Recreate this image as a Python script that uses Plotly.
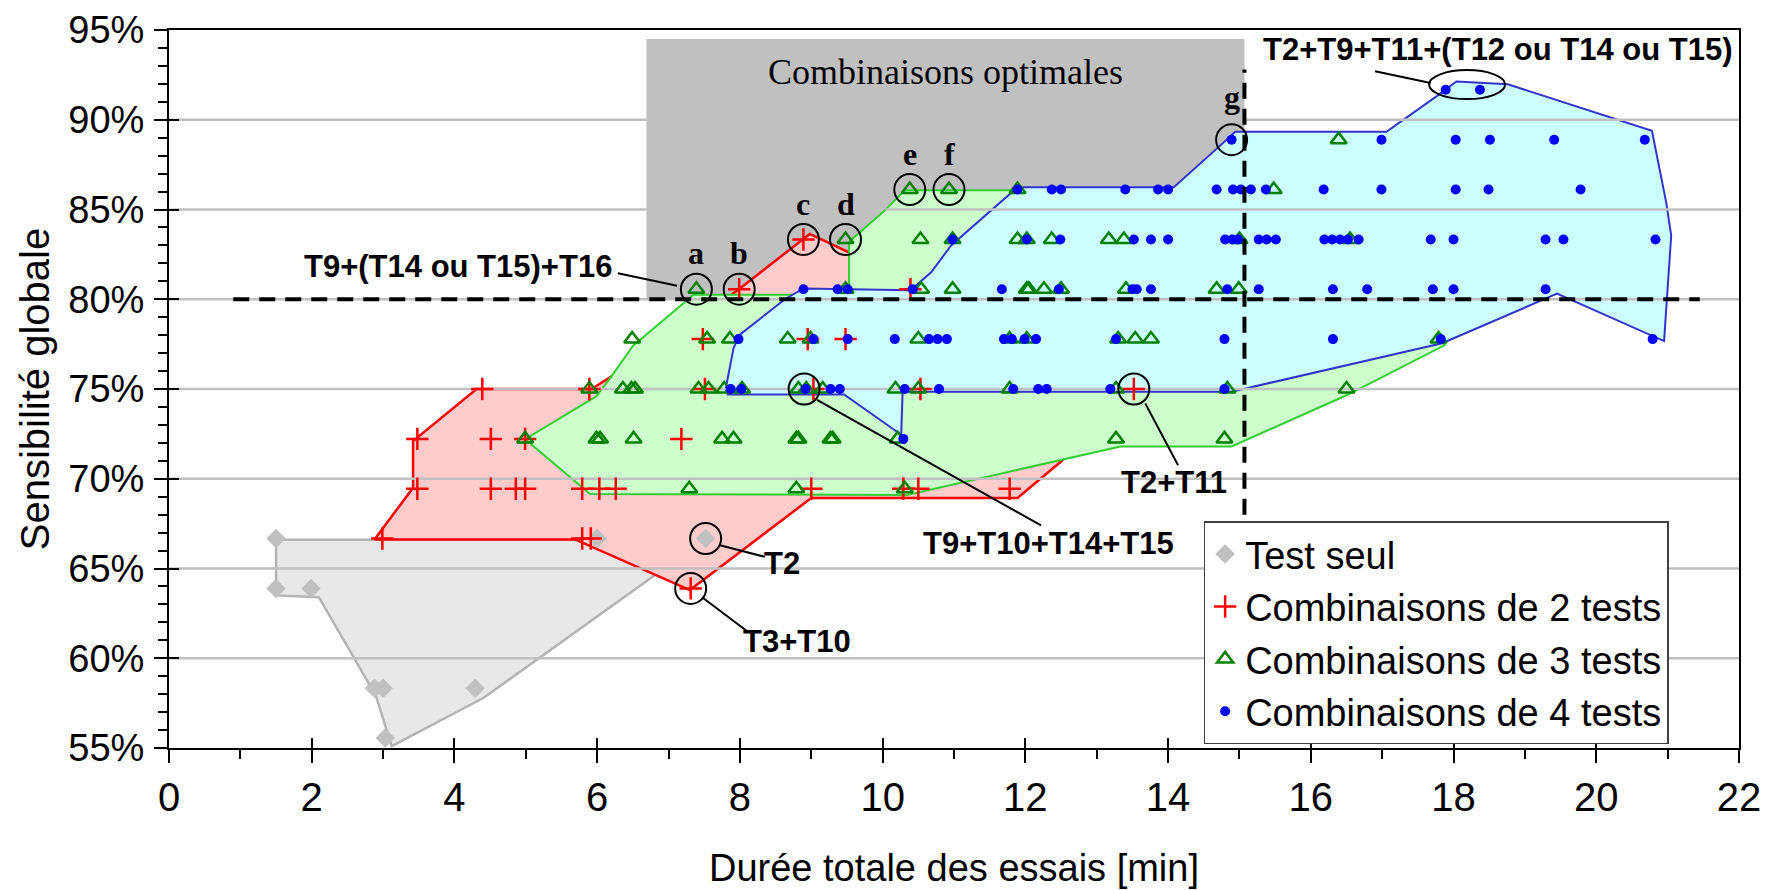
import plotly.graph_objects as go

# ---------------- axes ----------------
X_RANGE = [0, 22]
Y_RANGE = [55, 95]
X_TICKS = list(range(0, 23, 2))
Y_TICKS = list(range(55, 96, 5))
Y_TICK_LABELS = [f"{v}%" for v in Y_TICKS]
X_TITLE = "Durée totale des essais [min]"
Y_TITLE = "Sensibilité globale"

# ---------------- data (duration [min], sensitivity [%]) ----------------
TEST_SEUL_X = [1.50, 1.50, 1.99, 2.88, 3.00, 4.29, 3.03, 6.00, 7.52]
TEST_SEUL_Y = [66.67, 63.89, 63.89, 58.33, 58.33, 58.33, 55.56, 66.67, 66.67]

COMB2_ROWS = {
    63.89: [7.31],
    66.67: [2.99, 5.79, 5.91],
    69.44: [3.48, 4.51, 4.86, 4.99, 5.79, 6.03, 6.26, 9.00, 10.29, 10.50, 11.78],
    72.22: [3.48, 4.51, 4.99, 7.18],
    75.00: [4.39, 5.89, 7.51, 9.03, 10.53, 13.52],
    77.78: [7.48, 8.95, 9.48],
    80.56: [7.99, 10.39],
    83.33: [8.89],
}
COMB3_ROWS = {
    69.44: [7.29, 8.79, 10.31],
    72.22: [4.99, 5.99, 6.04, 6.51, 7.75, 7.91, 8.79, 8.82, 9.27, 9.30, 10.21, 13.27, 14.79],
    75.00: [5.89, 6.36, 6.48, 6.53, 7.42, 7.56, 7.78, 8.03, 8.82, 8.93, 9.16, 10.18, 10.50,
            11.78, 13.27, 14.83, 16.50],
    77.78: [6.49, 7.54, 7.86, 8.67, 8.99, 10.50, 11.78, 12.02, 13.30, 13.54, 13.76, 17.79],
    80.56: [7.39, 9.48, 10.54, 10.98, 12.02, 12.05, 12.26, 12.50, 13.41, 14.68, 14.99],
    83.33: [9.48, 10.53, 10.98, 11.89, 12.02, 12.37, 13.17, 13.38, 15.00, 16.55],
    86.11: [10.38, 10.93, 11.89, 15.48],
    88.89: [16.39],
}
COMB4_ROWS = {
    72.22: [10.29],
    75.00: [7.87, 8.02, 8.92, 9.27, 9.40, 10.31, 10.79, 11.83, 12.18, 12.30, 13.19, 14.79],
    77.78: [7.98, 9.03, 9.51, 10.17, 10.65, 10.77, 10.90, 11.70, 11.81, 11.99, 12.15, 13.27,
            14.79, 16.31, 17.82, 20.79],
    80.56: [8.89, 9.37, 9.51, 10.42, 11.67, 12.47, 13.50, 13.56, 13.76, 14.83, 15.27, 16.31,
            16.79, 17.71, 18.00, 19.29],
    83.33: [10.98, 12.02, 12.49, 13.52, 13.76, 14.00, 14.80, 14.90, 14.98, 15.27, 15.38, 15.51,
            16.19, 16.30, 16.41, 16.52, 16.67, 17.68, 18.00, 19.29, 19.54, 20.83],
    86.11: [11.89, 12.37, 12.50, 13.40, 13.86, 14.00, 14.68, 14.91, 15.02, 15.16, 15.37, 16.18,
            16.99, 18.03, 18.49, 19.78],
    88.89: [14.89, 16.99, 18.03, 18.51, 19.41, 20.68],
    91.67: [17.89, 18.37],
}

# envelopes drawn around each family
GRAY_HULL_X = [1.50, 1.50, 2.10, 2.90, 3.12, 4.41, 7.50, 1.50]
GRAY_HULL_Y = [66.60, 63.50, 63.40, 57.90, 55.10, 57.80, 66.60, 66.60]
RED_HULL_X = [2.88, 3.42, 3.42, 4.31, 5.92, 6.16, 7.95, 8.98, 9.52, 10.40, 13.55, 12.50, 11.89,
              9.00, 7.30, 5.69, 2.88]
RED_HULL_Y = [66.62, 69.50, 72.10, 75.00, 75.00, 75.60, 80.45, 83.64, 82.63, 80.60, 75.00, 70.96,
              68.93, 68.93, 63.80, 66.62, 66.62]
GREEN_HULL_X = [4.99, 5.99, 6.20, 6.50, 7.35, 9.53, 9.53, 10.03, 10.31, 11.90, 15.50, 16.40,
                16.60, 17.88, 16.50, 14.89, 13.33, 10.34, 5.90, 4.99]
GREEN_HULL_Y = [72.20, 74.60, 75.70, 77.40, 80.25, 80.25, 83.20, 84.94, 86.07, 86.07, 86.30,
                89.10, 83.40, 77.45, 74.65, 71.80, 71.80, 69.10, 69.15, 72.20]
BLUE_HULL_X = [14.89, 17.84, 19.45, 20.95, 21.05, 20.98, 20.78, 18.76, 18.04, 17.77, 17.06,
               14.94, 14.78, 14.08, 11.89, 10.96, 10.68, 10.39, 8.89, 8.63, 7.99, 7.91, 7.80,
               7.83, 9.46, 10.26, 10.28, 14.89]
BLUE_HULL_Y = [74.85, 77.55, 80.31, 77.67, 83.55, 85.40, 89.39, 91.98, 92.13, 91.33, 89.33,
               89.33, 88.74, 86.24, 86.24, 83.00, 81.50, 80.50, 80.60, 80.00, 78.00, 77.26,
               75.00, 74.70, 74.70, 72.45, 74.85, 74.85]

# "optimal" zone and thresholds
OPT_X = [6.69, 15.07]
OPT_Y = [80.0, 94.5]
OPT_LABEL = "Combinaisons optimales"
SENS_THRESHOLD = 80.0
SENS_LINE_X = [0.9, 21.45]
DUR_THRESHOLD = 15.07
DUR_LINE_Y = [68.0, 92.8]

GRID_Y = [60, 65, 70, 75, 80, 85, 90]
GRID_HIDDEN = {85: (6.69, 10.04), 90: (6.69, 15.07)}   # parts covered by the grey zone

# circled combinations with letters
LETTERS = ["a", "b", "c", "d", "e", "f", "g"]
LETTER_X = [7.39, 7.99, 8.89, 9.48, 10.38, 10.93, 14.89]
LETTER_Y = [80.56, 80.56, 83.33, 83.33, 86.11, 86.11, 88.89]

# callouts: text, text anchor point, leader line (start -> end), circled point
CALLOUTS = [
    dict(text="T9+(T14 ou T15)+T16", tx=6.24, ty=81.85, xa="right",
         line=(6.29, 81.45, 7.12, 80.75), cx=7.39, cy=80.56, circle=False),
    dict(text="T2+T9+T11+(T12 ou T14 ou T15)", tx=21.93, ty=93.9, xa="right",
         line=(16.9, 92.7, 17.68, 92.05), cx=None, cy=None, circle=False),
    dict(text="T2+T11", tx=14.08, ty=69.8, xa="center",
         line=(14.14, 70.75, 13.68, 74.2), cx=13.52, cy=75.0, circle=True),
    dict(text="T9+T10+T14+T15", tx=12.32, ty=66.4, xa="center",
         line=(12.22, 67.4, 9.08, 74.4), cx=8.90, cy=75.0, circle=True),
    dict(text="T2", tx=8.59, ty=65.3, xa="center",
         line=(8.35, 65.65, 7.72, 66.3), cx=7.52, cy=66.67, circle=True),
    dict(text="T3+T10", tx=8.80, ty=60.95, xa="center",
         line=(8.12, 61.45, 7.47, 63.4), cx=7.31, cy=63.89, circle=True),
]
ELLIPSE_CENTER = (18.19, 91.96)


def flatten(rows):
    xs, ys = [], []
    for yv, xl in rows.items():
        xs += xl
        ys += [yv] * len(xl)
    return xs, ys


COMB2_X, COMB2_Y = flatten(COMB2_ROWS)
COMB3_X, COMB3_Y = flatten(COMB3_ROWS)
COMB4_X, COMB4_Y = flatten(COMB4_ROWS)

SANS = "Liberation Sans, Arial, sans-serif"
SERIF = "Liberation Serif, Times New Roman, serif"

fig = go.Figure()

# envelopes
for hx, hy, fc, lc, lw in [
    (GRAY_HULL_X, GRAY_HULL_Y, "#E8E8E8", "#B4B4B4", 2.5),
    (RED_HULL_X, RED_HULL_Y, "#FFCCCC", "#FF0000", 2.5),
    (GREEN_HULL_X, GREEN_HULL_Y, "#CCFFCC", "#33CC33", 2),
    (BLUE_HULL_X, BLUE_HULL_Y, "#CCFFFF", "#3333CC", 2),
]:
    fig.add_trace(go.Scatter(x=hx, y=hy, mode="lines", fill="toself", fillcolor=fc,
                             line=dict(color=lc, width=lw), showlegend=False, hoverinfo="skip"))

# gridlines (drawn above envelopes, hidden by the grey zone)
gx, gy = [], []
for g in GRID_Y:
    if g in GRID_HIDDEN:
        a, b = GRID_HIDDEN[g]
        gx += [X_RANGE[0], a, None, b, X_RANGE[1], None]
        gy += [g, g, None, g, g, None]
    else:
        gx += [X_RANGE[0], X_RANGE[1], None]
        gy += [g, g, None]
fig.add_trace(go.Scatter(x=gx, y=gy, mode="lines", line=dict(color="#C0C0C0", width=2.5),
                         showlegend=False, hoverinfo="skip"))

# points
fig.add_trace(go.Scatter(x=TEST_SEUL_X, y=TEST_SEUL_Y, mode="markers", name="Test seul",
                         marker=dict(symbol="diamond", size=15, color="#C0C0C0")))
fig.add_trace(go.Scatter(x=COMB2_X, y=COMB2_Y, mode="markers", name="Combinaisons de 2 tests",
                         marker=dict(symbol="cross-thin", size=16,
                                     line=dict(color="#FF0000", width=2.5), color="#FF0000")))
fig.add_trace(go.Scatter(x=COMB3_X, y=COMB3_Y, mode="markers", name="Combinaisons de 3 tests",
                         marker=dict(symbol="triangle-up-open", size=14, color="#008000",
                                     line=dict(color="#008000", width=2.5))))
fig.add_trace(go.Scatter(x=COMB4_X, y=COMB4_Y, mode="markers", name="Combinaisons de 4 tests",
                         marker=dict(symbol="circle", size=10, color="#0000FF")))

# dummy trace for the inner half of crossing major ticks
fig.add_trace(go.Scatter(x=[None], y=[None], xaxis="x2", yaxis="y2", showlegend=False,
                         hoverinfo="skip"))

shapes = []
shapes.append(dict(type="rect", xref="x", yref="y", x0=OPT_X[0], x1=OPT_X[1], y0=OPT_Y[0],
                   y1=OPT_Y[1], fillcolor="#C0C0C0", line=dict(width=0), layer="below"))
shapes.append(dict(type="line", xref="x", yref="y", x0=SENS_LINE_X[0], x1=SENS_LINE_X[1],
                   y0=SENS_THRESHOLD, y1=SENS_THRESHOLD,
                   line=dict(color="black", width=4, dash="16px,10px"), layer="above"))
shapes.append(dict(type="line", xref="x", yref="y", x0=DUR_THRESHOLD, x1=DUR_THRESHOLD,
                   y0=DUR_LINE_Y[0], y1=DUR_LINE_Y[1],
                   line=dict(color="black", width=4, dash="16px,10px"), layer="above"))


def circle(cx, cy, rx=15.5, ry=15.5):
    return dict(type="circle", xref="x", yref="y", xsizemode="pixel", ysizemode="pixel",
                xanchor=cx, yanchor=cy, x0=-rx, x1=rx, y0=-ry, y1=ry,
                line=dict(color="black", width=2), layer="above")


for lx, ly in zip(LETTER_X, LETTER_Y):
    shapes.append(circle(lx, ly))
for c in CALLOUTS:
    if c["circle"]:
        shapes.append(circle(c["cx"], c["cy"]))
    x0, y0, x1, y1 = c["line"]
    shapes.append(dict(type="line", xref="x", yref="y", x0=x0, y0=y0, x1=x1, y1=y1,
                       line=dict(color="black", width=2), layer="above"))
shapes.append(circle(ELLIPSE_CENTER[0], ELLIPSE_CENTER[1], rx=38, ry=14.5))

annotations = []
annotations.append(dict(x=sum(OPT_X) / 2, y=92.65, xref="x", yref="y", text=OPT_LABEL,
                        showarrow=False, font=dict(family=SERIF, size=36, color="black")))
for t, lx, ly in zip(LETTERS, LETTER_X, LETTER_Y):
    annotations.append(dict(x=lx, y=ly + (2.35 if t == "g" else 2.0), xref="x", yref="y",
                            text=f"<b>{t}</b>", showarrow=False,
                            font=dict(family=SERIF, size=32, color="black")))
for c in CALLOUTS:
    annotations.append(dict(x=c["tx"], y=c["ty"], xref="x", yref="y", text=f"<b>{c['text']}</b>",
                            showarrow=False, xanchor=c["xa"], yanchor="middle",
                            font=dict(family=SANS, size=31, color="black")))

axis_common = dict(showgrid=False, zeroline=False, showline=True, linecolor="black", linewidth=2,
                   mirror=True, ticks="outside", ticklen=13, tickwidth=2, tickcolor="black",
                   ticklabeloverflow="allow")

fig.update_layout(
    width=1771, height=890,
    margin=dict(l=161, r=40, t=22, b=150),
    paper_bgcolor="white", plot_bgcolor="white",
    font=dict(family=SANS, color="black"),
    shapes=shapes, annotations=annotations,
    xaxis=dict(range=X_RANGE, tickvals=X_TICKS, **axis_common, ticklabelstandoff=0,
               tickfont=dict(family=SANS, size=40, color="black"),
               automargin="bottom",
               minor=dict(dtick=1, tick0=0, ticks="outside", ticklen=9, tickwidth=2,
                          tickcolor="black", showgrid=False),
               title=dict(text=X_TITLE, font=dict(family=SANS, size=38), standoff=36)),
    yaxis=dict(range=Y_RANGE, tickvals=Y_TICKS, ticktext=Y_TICK_LABELS, **axis_common,
               tickfont=dict(family=SANS, size=38, color="black"),
               ticklabelstandoff=2, automargin="left",
               minor=dict(dtick=1, tick0=55, ticks="outside", ticklen=9, tickwidth=2,
                          tickcolor="black", showgrid=False),
               title=dict(text=Y_TITLE, font=dict(family=SANS, size=40), standoff=6)),
    xaxis2=dict(overlaying="x", anchor="y", side="bottom", range=X_RANGE, tickvals=X_TICKS,
                ticks="inside", ticklen=10, tickwidth=2, tickcolor="black",
                showticklabels=False, showgrid=False, zeroline=False, showline=False),
    yaxis2=dict(overlaying="y", anchor="x", side="left", range=Y_RANGE, tickvals=Y_TICKS,
                ticks="inside", ticklen=10, tickwidth=2, tickcolor="black",
                showticklabels=False, showgrid=False, zeroline=False, showline=False),
    legend=dict(x=0.659, y=0.005, xanchor="left", yanchor="bottom", bgcolor="white",
                bordercolor="#404040", borderwidth=1.5,
                font=dict(family=SANS, size=38, color="black"), tracegroupgap=0),
    showlegend=True,
)

fig.write_html("out.html")
